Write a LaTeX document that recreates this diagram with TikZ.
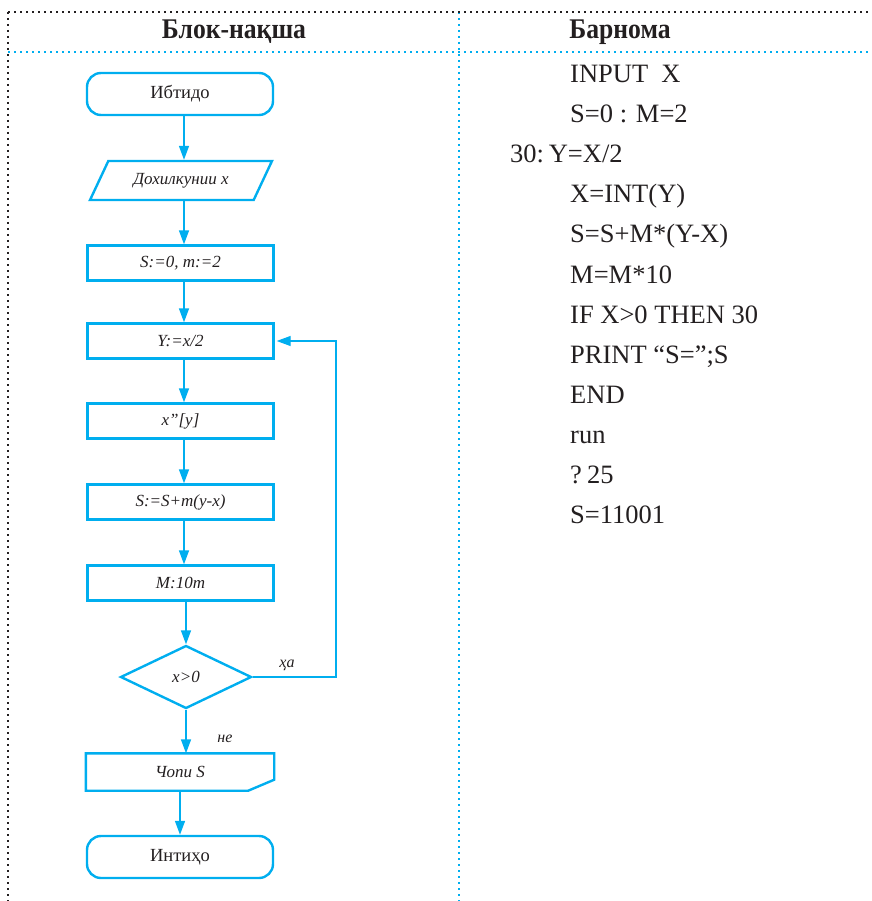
\documentclass[tikz,border=0pt]{standalone}
\usepackage{fontspec}
\setmainfont{Liberation Serif}
\usetikzlibrary{arrows.meta,positioning,shapes.geometric}
\definecolor{flowcyan}{RGB}{0,174,239}
\definecolor{inkgray}{RGB}{35,31,32}

\tikzset{
  boxline/.style={draw=flowcyan,line width=2.4pt},
  box/.style={boxline,minimum width=186pt,minimum height=35pt,inner sep=0pt,
    text=inkgray,font=\fontsize{17}{20}\selectfont\itshape},
  terminal/.style={box,rounded corners=14pt,minimum height=42pt,
    font=\fontsize{18.5}{22}\selectfont},
  io/.style={box,trapezium,trapezium left angle=51,trapezium right angle=129,
    trapezium stretches=true,minimum width=182pt,minimum height=39pt},
  decision/.style={box,diamond,minimum width=131pt,minimum height=63pt},
  flow/.style={draw=flowcyan,line width=1.6pt,-{Triangle[length=14pt,width=10pt]}},
  loopline/.style={flow,line width=1.3pt,shorten >=2pt},
  codeline/.style={anchor=base west,inner sep=0pt,text=inkgray,
    font=\fontsize{26.5}{30}\selectfont},
  head/.style={text=inkgray,font=\fontsize{28.5}{31}\selectfont\bfseries\addfontfeature{FakeStretch=0.9}},
  tag/.style={text=inkgray,font=\fontsize{16}{19}\selectfont\itshape},
  dotrule/.style={line width=1.8pt,dash pattern=on 1.8pt off 4.2pt}
}

\begin{document}
\begin{tikzpicture}[x=1pt,y=-1pt]
\useasboundingbox (0,0) rectangle (871,901);
% table frame
\draw[dotrule,flowcyan] (8,52) -- (871,52);
\draw[dotrule,flowcyan] (459,12) -- (459,901);
\draw[dotrule,inkgray] (8,12) -- (871,12);
\draw[dotrule,inkgray] (8,12) -- (8,901);
\node[head] (headL) at (234,32) {Блок-нақша};
\node[head] (headR) at (620,32) {Барнома};

% flowchart
\node[terminal] (begin) at (180,94) {Ибтидо};
\node[io] (input) at (181,180.5) {Дохилкунии x};
\node[box] (init) at (180.5,263) {S:=0, m:=2};
\node[box] (half) at (180.5,341) {Y:=x/2};
\node[box] (trunc) at (180.5,421) {x”[y]};
\node[box] (acc) at (180.5,502) {S:=S+m(y-x)};
\node[box] (scale) at (180.5,583) {M:10m};
\node[decision] (test) at (186,677) {x>0};
\node[box,draw=none] (print) at (180,772) {Чопи S};
\draw[boxline] (print.north west) -- (print.north east) -- ([yshift=11pt]print.south east)
  -- ([xshift=-26pt]print.south east) -- (print.south west) -- cycle;
\node[terminal] (finish) at (180,857) {Интиҳо};

\coordinate (axis) at (184,0);
\coordinate (back) at (336,679);
\draw[flow] (begin.south -| axis) -- (input.north -| axis);
\draw[flow] (input.south -| axis) -- (init.north -| axis);
\draw[flow] (init.south -| axis) -- (half.north -| axis);
\draw[flow] (half.south -| axis) -- (trunc.north -| axis);
\draw[flow] (trunc.south -| axis) -- (acc.north -| axis);
\draw[flow] (acc.south -| axis) -- (scale.north -| axis);
\draw[flow] (scale.south -| test.north) -- (test.north);
\draw[flow] (test.south) -- (test.south |- print.north);
\draw[flow] (print) -- (finish);
\draw[loopline] (test.east) -- (test.east -| back) |- (half.east);
\node[tag] (yes) at (287,665) {ҳа};
\node[tag] (no) at (225,739) {не};

% program text
\foreach \row/\txt in {0/{INPUT\hspace{0.5em}X},1/{S=0 : M=2},3/{X=INT(Y)},
    4/{S=S+M*(Y-X)},5/{M=M*10},6/{IF X>0 THEN 30},7/{PRINT “S=”;S},
    8/{END},9/{run},10/{?\hspace{0.2em}25},11/{S=11001}}
  \node[codeline] (code\row) at (570,83+40*\row) {\txt};
\node[codeline] (code2) at (510,163) {30:\hspace{0.18em}Y=X/2};
\end{tikzpicture}
\end{document}
